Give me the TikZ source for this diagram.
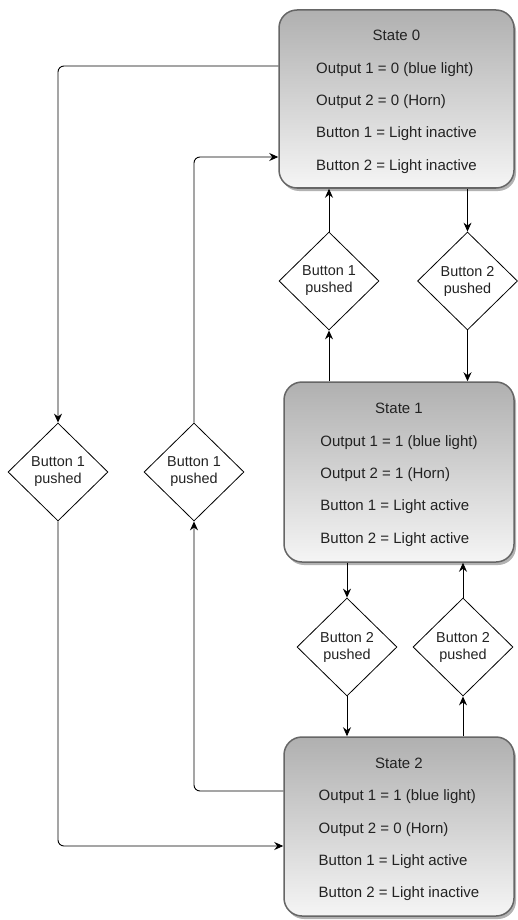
\documentclass[tikz,border=0pt]{standalone}
\usepackage{fontspec}
\setmainfont{Liberation Sans}
\usetikzlibrary{shapes.geometric,arrows.meta,shadows}
\definecolor{boxborder}{HTML}{666666}
\definecolor{gtop}{HTML}{B0B0B0}
\definecolor{gbot}{HTML}{F5F5F5}
\definecolor{txt}{HTML}{222222}
\newcommand{\statelines}[5]{\renewcommand{\arraystretch}{1.805}\begin{tabular}{@{}l@{}}\multicolumn{1}{@{}c@{}}{#1}\\#2\\#3\\#4\\#5\end{tabular}}
\begin{document}
\begin{tikzpicture}[x=1pt,y=-1pt,
  statebox/.style={rectangle, rounded corners=18pt, draw=boxborder, line width=1.5pt,
    top color=gtop, bottom color=gbot,
    drop shadow={shadow xshift=2pt,shadow yshift=-3pt,opacity=0.3,fill=black},
    inner sep=0pt, text=txt, font=\fontsize{15}{18}\selectfont},
  decision/.style={diamond, draw=black, line width=0.8pt, fill=white,
    minimum width=100pt, minimum height=98pt, inner sep=0pt, align=center,
    text=txt, font=\fontsize{14.4}{17}\selectfont},
  conn/.style={draw=black, line width=0.9pt, rounded corners=6pt,
    -{Stealth[length=9pt,width=8pt,inset=3pt]}}]
\useasboundingbox (0,0) rectangle (517,920);

\node[statebox, minimum width=235pt, minimum height=178pt] (S0) at (396.5,99)
  {\statelines{State 0}{Output 1 = 0 (blue light)}{Output 2 = 0 (Horn)}{Button 1 = Light inactive}{Button 2 = Light inactive}};
\node[statebox, minimum width=230pt, minimum height=180pt] (S1) at (399,472)
  {\statelines{State 1}{Output 1 = 1 (blue light)}{Output 2 = 1 (Horn)}{Button 1 = Light active}{Button 2 = Light active}};
\node[statebox, minimum width=230pt, minimum height=179pt] (S2) at (399,826.5)
  {\statelines{State 2}{Output 1 = 1 (blue light)}{Output 2 = 0 (Horn)}{Button 1 = Light active}{Button 2 = Light inactive}};

\node[decision] (L1) at (58,472) {Button 1\\pushed};
\node[decision] (L2) at (194,472) {Button 1\\pushed};
\node[decision] (B1u) at (329,281) {Button 1\\pushed};
\node[decision] (B2u) at (467.5,281) {Button 2\\pushed};
\node[decision] (B2a) at (347,647) {Button 2\\pushed};
\node[decision] (B2b) at (463,647) {Button 2\\pushed};

\draw[conn] (S0.west |- 0,66) -| (L1.north);
\draw[conn] (L1.south) |- (S2.west |- 0,846);
\draw[conn] (S2.west |- 0,791) -| (L2.south);
\draw[conn] (L2.north) |- (S0.west |- 0,157);

\draw[conn] (S0.south -| B2u.north) -- (B2u.north);
\draw[conn] (B2u.south) -- (B2u.south |- S1.north);
\draw[conn] (S1.north -| B1u.south) -- (B1u.south);
\draw[conn] (B1u.north) -- (B1u.north |- S0.south);
\draw[conn] (S1.south -| B2a.north) -- (B2a.north);
\draw[conn] (B2a.south) -- (B2a.south |- S2.north);
\draw[conn] (S2.north -| B2b.south) -- (B2b.south);
\draw[conn] (B2b.north) -- (B2b.north |- S1.south);
\end{tikzpicture}
\end{document}
